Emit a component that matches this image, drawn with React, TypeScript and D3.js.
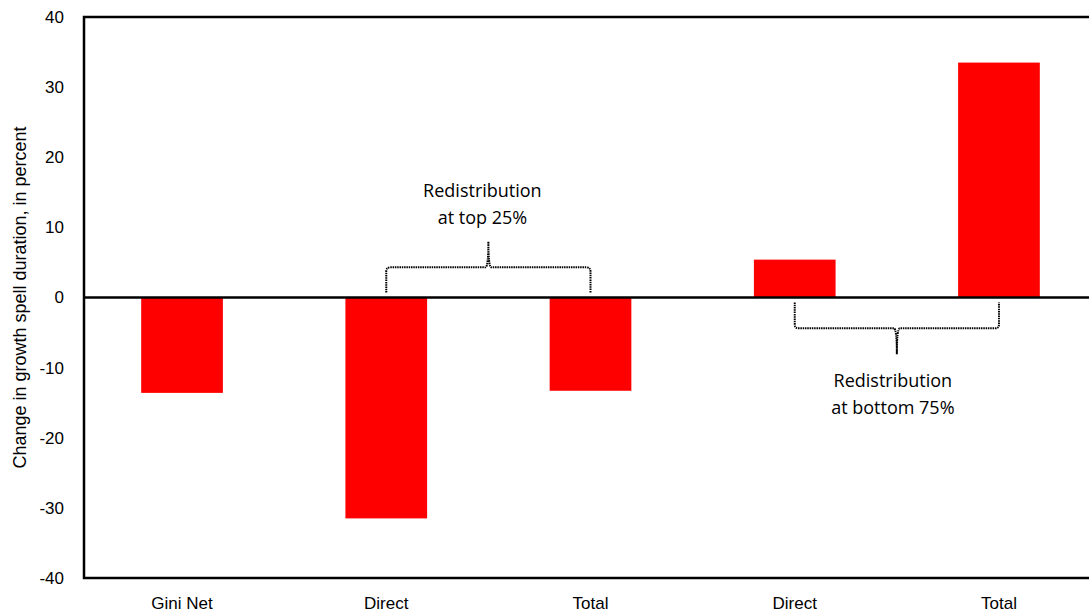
import React from "react";
import * as d3 from "d3";

const categories = ["Gini Net", "Direct", "Total", "Direct", "Total"];
const values = [-13.6, -31.5, -13.3, 5.4, 33.5];
const yTicks = [40, 30, 20, 10, 0, -10, -20, -30, -40];
const braceTop = { from: 1, to: 2, lines: ["Redistribution", "at top 25%"] };
const braceBottom = { from: 3, to: 4, lines: ["Redistribution", "at bottom 75%"] };

const W = 1089;
const H = 614;
const margin = { left: 84, right: -8, top: 17, bottom: 36 };

export default function App() {
  const x = d3
    .scaleBand<number>()
    .domain(d3.range(categories.length))
    .range([margin.left, W - margin.right])
    .paddingInner(0.6)
    .paddingOuter(0.28);
  const y = d3.scaleLinear().domain([-40, 40]).range([H - margin.bottom, margin.top]);
  const bw = x.bandwidth();
  const cx = (i: number) => (x(i) || 0) + bw / 2;

  // curly bracket: base ends, horizontal line, spike in the middle
  const brace = (x0: number, x1: number, yBase: number, yLine: number, ySpike: number) => {
    const m = (x0 + x1) / 2;
    const r = Math.sign(yLine - yBase) * 4;
    return `M${x0},${yBase} L${x0},${yLine - r} Q${x0},${yLine} ${x0 + 4},${yLine} L${m - 3},${yLine} Q${m},${yLine} ${m},${ySpike} Q${m},${yLine} ${m + 3},${yLine} L${x1 - 4},${yLine} Q${x1},${yLine} ${x1},${yLine - r} L${x1},${yBase}`;
  };

  const topX0 = cx(braceTop.from);
  const topX1 = cx(braceTop.to);
  const botX0 = cx(braceBottom.from);
  const botX1 = cx(braceBottom.to);

  return (
    <svg width={W} height={H} style={{ position: "absolute", left: 0, top: 0, background: "#fff" }}>
      {values.map((v, i) => (
        <rect
          key={i}
          x={x(i)}
          width={bw}
          y={y(Math.max(0, v))}
          height={Math.abs(y(v) - y(0))}
          fill="#ff0000"
        />
      ))}
      <rect
        x={margin.left}
        y={margin.top}
        width={W + 20 - margin.left}
        height={y(-40) - margin.top}
        fill="none"
        stroke="#000"
        strokeWidth={2.5}
      />
      <line x1={margin.left} x2={W} y1={y(0)} y2={y(0)} stroke="#000" strokeWidth={2.5} />
      {yTicks.map((t) => (
        <text
          key={t}
          x={64}
          y={y(t)}
          dy="0.35em"
          textAnchor="end"
          fontFamily="Liberation Sans, Arial, sans-serif"
          fontSize={17}
        >
          {t}
        </text>
      ))}
      {categories.map((c, i) => (
        <text
          key={i}
          x={cx(i)}
          y={609}
          textAnchor="middle"
          fontFamily="Liberation Sans, Arial, sans-serif"
          fontSize={17}
        >
          {c}
        </text>
      ))}
      <text
        transform={`translate(26,${y(0)}) rotate(-90)`}
        textAnchor="middle"
        fontFamily="Liberation Sans, Arial, sans-serif"
        fontSize={18}
      >
        Change in growth spell duration, in percent
      </text>
      <path
        d={brace(topX0, topX1, y(0.7), y(4.3), y(8))}
        fill="none"
        stroke="#000"
        strokeWidth={2}
        strokeDasharray="1.5,0.8"
      />
      <path
        d={brace(botX0, botX1, y(-0.7), y(-4.4), y(-8.1))}
        fill="none"
        stroke="#000"
        strokeWidth={2}
        strokeDasharray="1.5,0.8"
      />
      {braceTop.lines.map((l, k) => (
        <text
          key={k}
          x={(topX0 + topX1) / 2 - 6}
          y={197 + k * 27}
          textAnchor="middle"
          fontFamily="Open Sans, sans-serif"
          fontSize={18}
        >
          {l}
        </text>
      ))}
      {braceBottom.lines.map((l, k) => (
        <text
          key={k}
          x={(botX0 + botX1) / 2 - 4}
          y={387 + k * 27}
          textAnchor="middle"
          fontFamily="Open Sans, sans-serif"
          fontSize={18}
        >
          {l}
        </text>
      ))}
    </svg>
  );
}
